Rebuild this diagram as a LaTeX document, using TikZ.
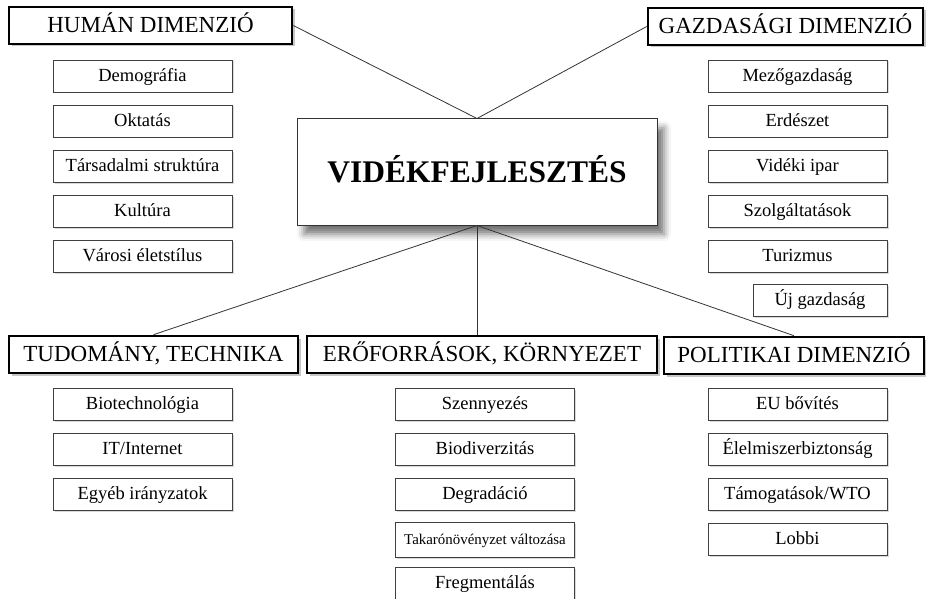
\documentclass[tikz,border=0pt]{standalone}
\usepackage{fontspec}
\setmainfont{Liberation Serif}
\usepackage{tikz}
\usetikzlibrary{shadows}
\usetikzlibrary{shadows.blur}
\usetikzlibrary{positioning}
\tikzset{%
  every dimension/.style={
    rectangle,
    draw=black,
    line width=2.6pt,
    fill=white,
    minimum height=37pt,
    inner sep=0pt,
    text height=15.2pt,
    text depth=1pt,
    font=\fontsize{23}{23}\selectfont,
    drop shadow={shadow xshift=2.5pt, shadow yshift=-2.5pt, opacity=0.45}
  },
  every item/.style={
    rectangle,
    draw=black!75,
    line width=0.9pt,
    fill=white,
    minimum width=179pt,
    minimum height=32pt,
    inner sep=0pt,
    text height=12.2pt,
    text depth=0.8pt,
    font=\fontsize{18.5}{18.5}\selectfont,
    drop shadow={shadow xshift=1.5pt, shadow yshift=-1.5pt, opacity=0.3}
  },
  core/.style={
    rectangle,
    draw=black!80,
    line width=1pt,
    fill=white,
    minimum width=360pt,
    minimum height=106pt,
    text height=21.4pt,
    text depth=1.3pt,
    font=\fontsize{31.5}{31.5}\selectfont\bfseries,
    blur shadow={shadow xshift=7pt, shadow yshift=-9pt,
      shadow blur radius=7pt, shadow opacity=55}
  },
  link/.style={draw=black!80, line width=0.8pt}
}

\begin{document}
\begin{tikzpicture}[x=1pt, y=-1pt]

    \useasboundingbox (0,0) rectangle (926,599);

    \node [core] (core) at (477,172) {VIDÉKFEJLESZTÉS};

    \node [every dimension, minimum width=283pt] (human) at (150.5,25.5) {HUMÁN DIMENZIÓ};
    \node [every dimension, minimum width=275pt] (econ) at (785.5,26.5) {GAZDASÁGI DIMENZIÓ};
    \node [every dimension, minimum width=289pt] (science) at (153.5,354.5) {TUDOMÁNY, TECHNIKA};
    \node [every dimension, minimum width=350pt] (resource) at (482,354.5) {ERŐFORRÁSOK, KÖRNYEZET};
    \node [every dimension, minimum width=260pt] (policy) at (794,355.5) {POLITIKAI DIMENZIÓ};

    \foreach \l [count=\y] in {Demográfia, Oktatás, Társadalmi struktúra, Kultúra, Városi életstílus}
    \node [every item] (human-\y) at (142.5,31+\y*45) {\l};

    \foreach \l [count=\y] in {Mezőgazdaság, Erdészet, Vidéki ipar, Szolgáltatások, Turizmus}
    \node [every item] (econ-\y) at (797.5,31+\y*45) {\l};
    \node [every item, minimum width=134pt] (econ-6) at (820,300) {Új gazdaság};

    \foreach \l [count=\y] in {Biotechnológia, IT/Internet, Egyéb irányzatok}
    \node [every item] (science-\y) at (142.5,359+\y*45) {\l};

    \foreach \l [count=\y] in {Szennyezés, Biodiverzitás, Degradáció}
    \node [every item] (resource-\y) at (485,359+\y*45) {\l};
    \node [every item, minimum height=35pt, text height=9.8pt, text depth=0.6pt,
        font=\fontsize{14.9}{14.9}\selectfont]
        (resource-4) at (485,539.5) {Takarónövényzet változása};
    \node [every item] (resource-5) at (485,583) {Fregmentálás};

    \foreach \l [count=\y] in {EU bővítés, Élelmiszerbiztonság, Támogatások/WTO, Lobbi}
    \node [every item] (policy-\y) at (797.5,359+\y*45) {\l};

    \draw [link] (core.north) -- (human.east);
    \draw [link] (core.north) -- (econ.west);
    \draw [link] (core.south) -- (science.north);
    \draw [link] (core.south) -- (core.south |- resource.north);
    \draw [link] (core.south) -- (policy.north);

\end{tikzpicture}
\end{document}
